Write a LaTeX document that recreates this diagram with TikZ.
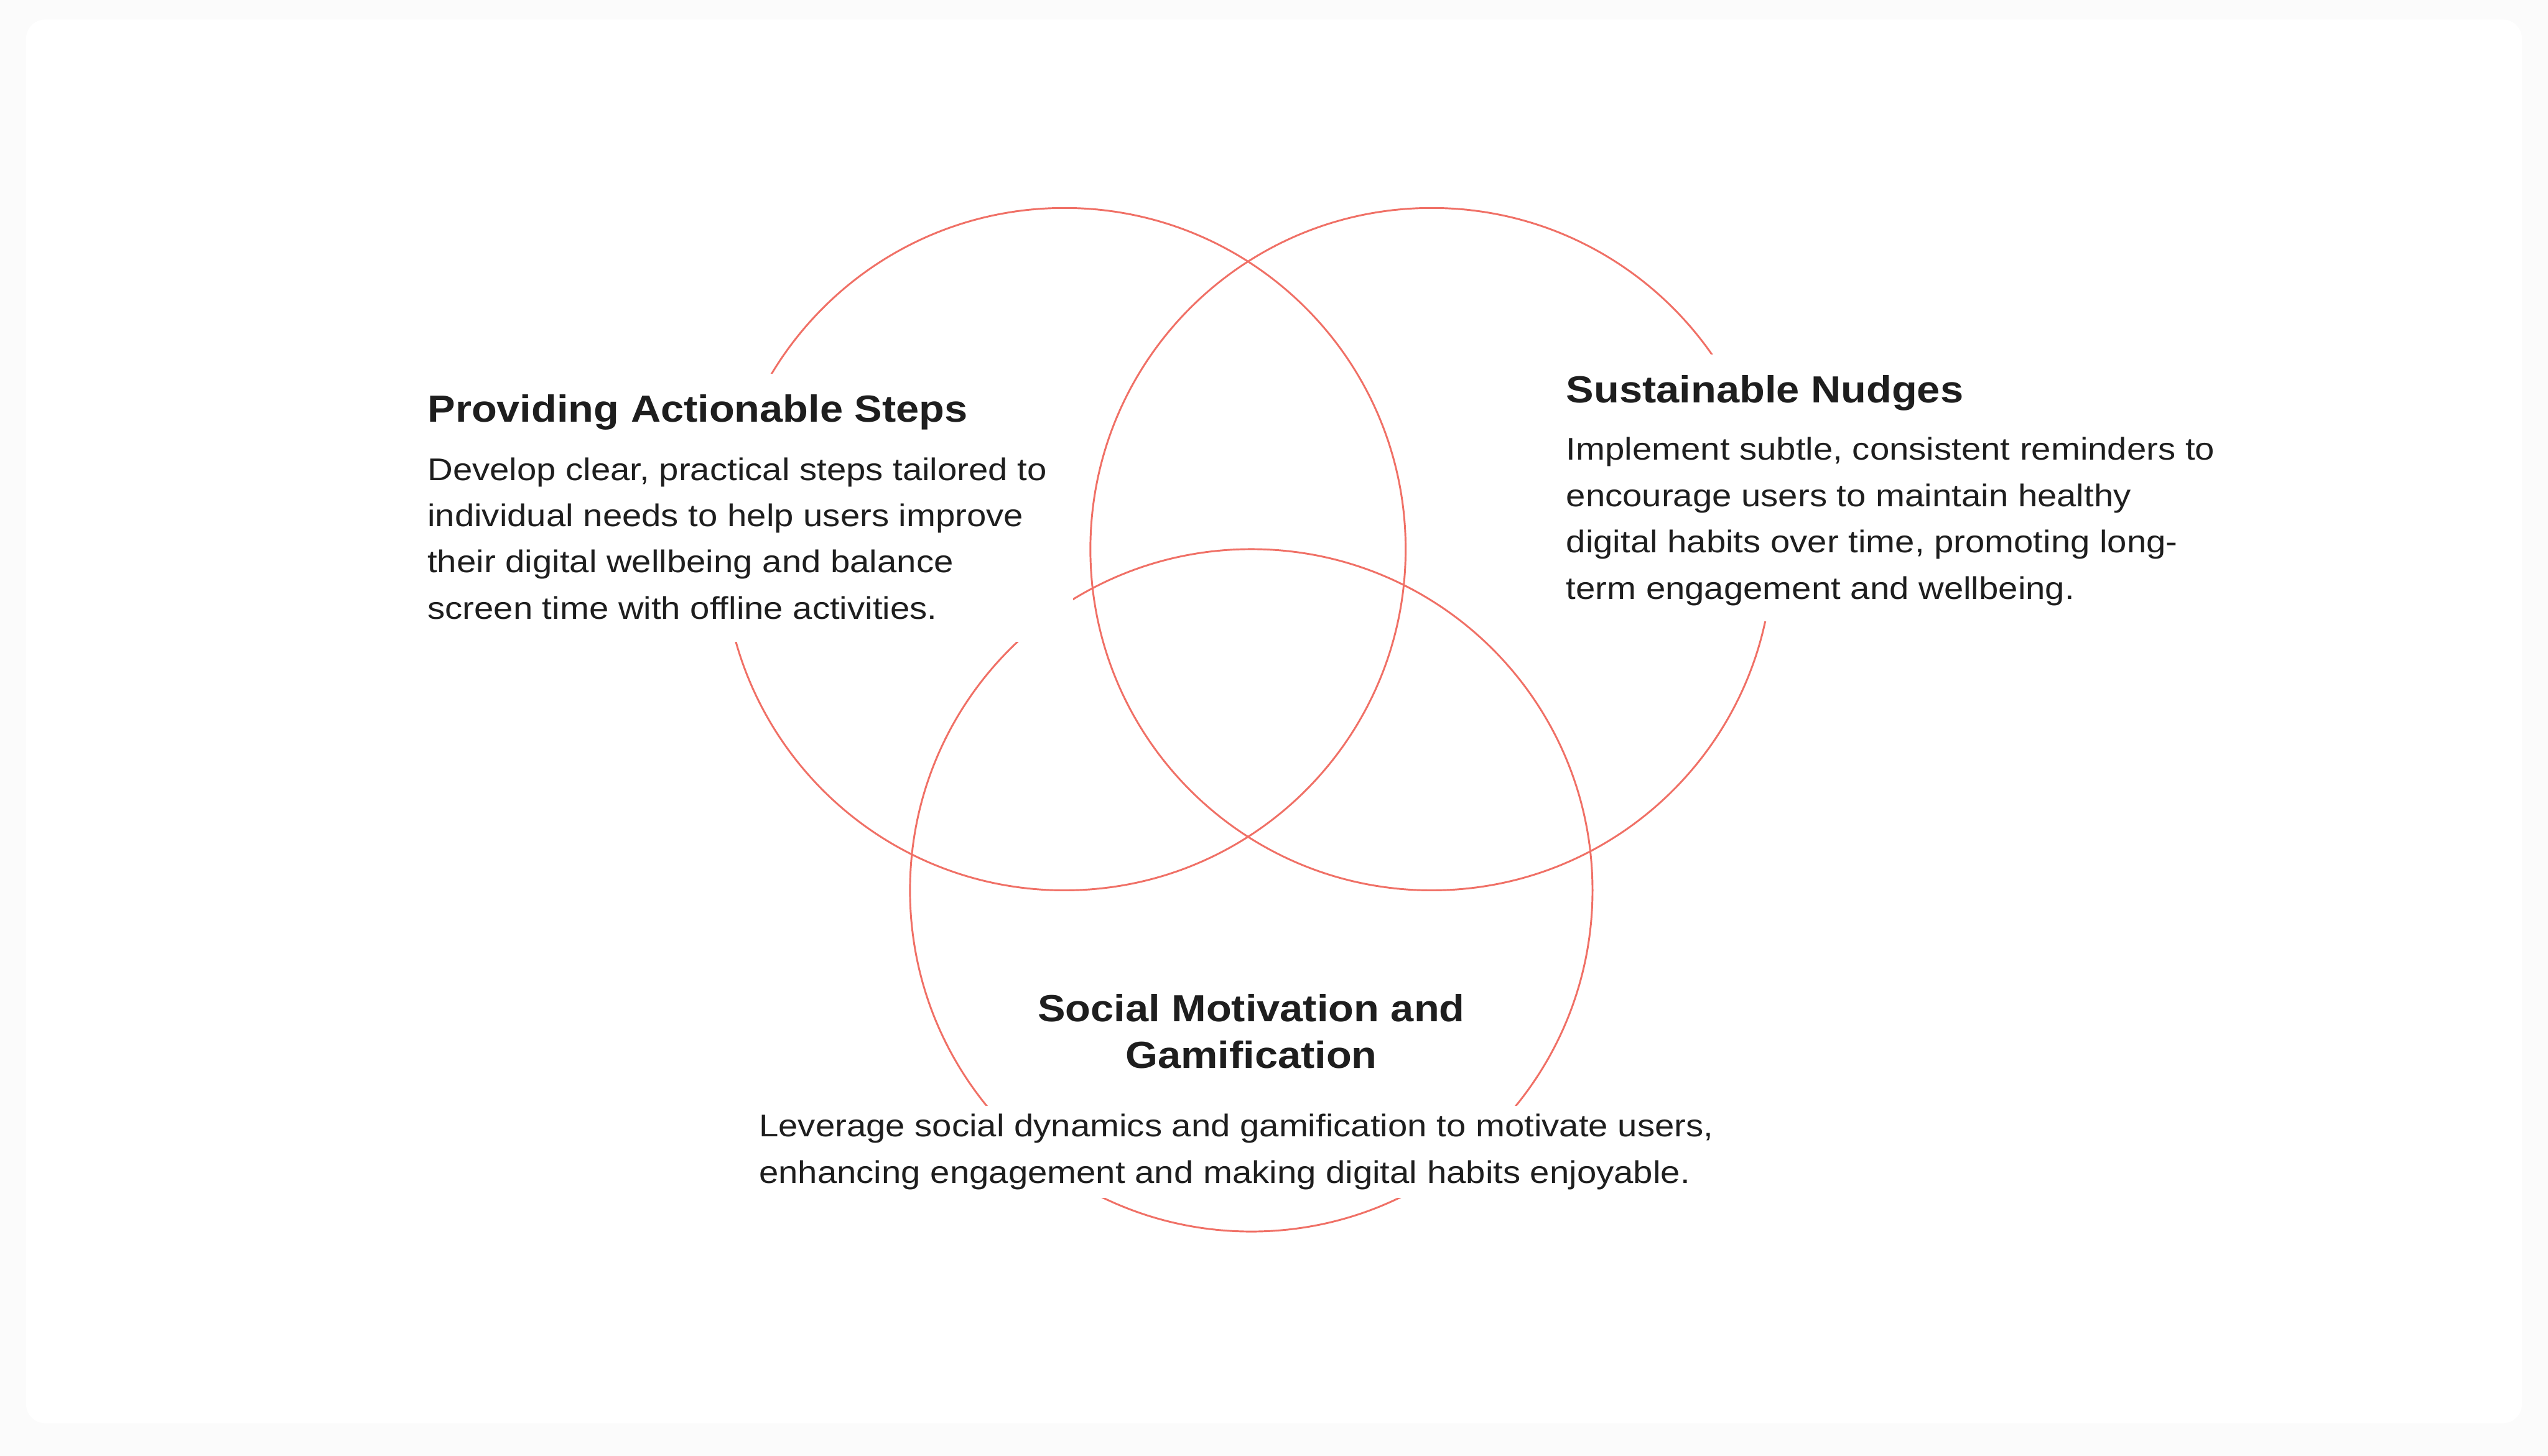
\documentclass[tikz,border=0pt]{standalone}
\usepackage{fontspec}
\setmainfont{Liberation Sans}[FakeStretch=1.1]
\newfontfamily\bodyfont{Liberation Sans}[FakeStretch=1.117]
\definecolor{vennred}{RGB}{240,112,102}
\definecolor{ink}{RGB}{30,30,30}
\definecolor{pagebg}{RGB}{251,251,251}
\tikzset{
  ring/.style={draw=vennred, line width=1.2pt},
  headfont/.style={font=\fontsize{24.8pt}{30.8pt}\selectfont\bfseries, text=ink, fill=white},
  heading/.style={headfont, inner sep=0pt, text height=31.7pt, text depth=15pt, anchor=base west},
  blurb/.style={font=\bodyfont\fontsize{20.6pt}{30.4pt}\selectfont, text=ink, fill=white, align=left, inner xsep=17pt, anchor=north west},
}
\begin{document}
\begin{tikzpicture}[x=0.0375cm, y=-0.0375cm]
    % Page and card
    \fill[pagebg] (0,0) rectangle (1568,896);
    \fill[white, rounded corners=12.7pt] (16,12) rectangle (1552,876);

    % Circles
    \coordinate (cp) at (655,338);
    \coordinate (cn) at (881,338);
    \coordinate (cs) at (770,548);
    \foreach \c in {cp,cn,cs} \draw[ring] (\c) circle[radius=210];

    % Providing actionable steps
    \node[heading] (ptitle) at (263,259.7) {Providing Actionable Steps};
    \node[blurb, inner ysep=14.9pt] (pbody) at (247,267.4) {Develop clear, practical steps tailored to\\individual needs to help users improve\\their digital wellbeing and balance\\screen time with offline activities.};

    % Sustainable nudges
    \node[heading] (ntitle) at (963.7,248) {Sustainable Nudges};
    \node[blurb, inner ysep=10.3pt] (nbody) at (947.7,259.4) {Implement subtle, consistent reminders to\\encourage users to maintain healthy\\digital habits over time, promoting long-\\term engagement and wellbeing.};

    % Social motivation
    \node[headfont, align=center, anchor=north, inner sep=2pt] (stitle) at (770,609.9) {Social Motivation and\\Gamification};
    \node[blurb, inner ysep=5.4pt] (sbody) at (451,680.5) {Leverage social dynamics and gamification to motivate users,\\enhancing engagement and making digital habits enjoyable.};
\end{tikzpicture}
\end{document}
